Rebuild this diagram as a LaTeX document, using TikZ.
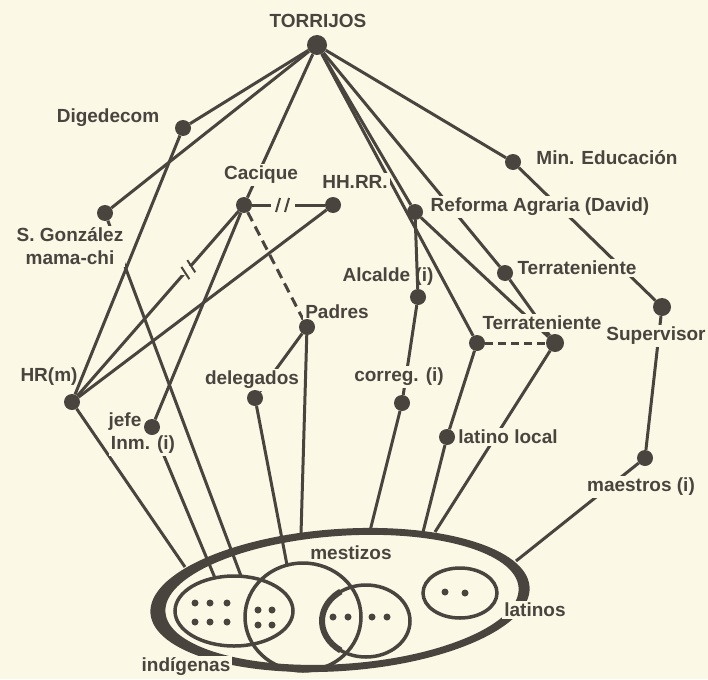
\documentclass[tikz,border=0pt]{standalone}
\usepackage{fontspec}
\setmainfont{Liberation Sans}
\definecolor{ink}{RGB}{74,68,62}
\definecolor{paper}{RGB}{251,248,230}
\pgfdeclarelayer{paperlayer}
\pgfdeclarelayer{edgelayer}
\pgfsetlayers{paperlayer,edgelayer,main}
\newcommand\lblfont{\fontsize{19}{23}\selectfont\bfseries}
\begin{document}
\begin{tikzpicture}[x=1pt,y=-1pt,
  vdot/.style={circle,fill=ink,inner sep=0pt,minimum size=16pt},
  bigdot/.style={vdot,minimum size=20pt},
  lbl/.style={font=\lblfont,text=ink,fill=paper,inner sep=2pt},
  lblclear/.style={font=\lblfont,text=ink,inner sep=2pt},
  link/.style={draw=ink,line width=3pt},
  dashlink/.style={link,dash pattern=on 10pt off 6pt},
  pdot/.style={circle,fill=ink,inner sep=0pt,minimum size=7pt},
  ringline/.style={draw=ink,line width=3.5pt},
  cutgap/.style={fill=paper,inner sep=0pt,minimum width=24pt,minimum height=9pt},
  cutstroke/.style={draw=ink,line width=2pt}
]
\begin{pgfonlayer}{paperlayer}
\fill[paper] (0,0) rectangle (708,679);
\end{pgfonlayer}
\useasboundingbox (0,0) rectangle (708,679);

% ---------- labels ----------
\node[lbl] (torrL) at (318,21) {TORRIJOS};
\node[lbl] (digeL) at (108,118) {Digedecom};
\node[lbl] (minedL) at (607,158) {Min. Educación};
\node[lbl] (caciL) at (261,175) {Cacique};
\node[lbl] (hhrrL) at (355,182) {HH.RR.};
\node[lbl] (refoL) at (540,207) {Reforma Agraria (David)};
\node[lbl,align=center] (sgonL) at (70,246.5) {S. González\\mama-chi};
\node[lblclear] (alcaL) at (388,277) {Alcalde (i)};
\node[lbl] (terr1L) at (577,268) {Terrateniente};
\node[lbl] (supvL) at (656,336) {Supervisor};
\node[lbl] (padrL) at (337,312) {Padres};
\node[lbl] (terr2L) at (542,323) {Terrateniente};
\node[lblclear] (hrmL) at (49,377) {HR(m)};
\node[lbl] (deleL) at (252,380) {delegados};
\node[lbl] (corrL) at (399,377) {correg. (i)};
\node[lbl] (latiL) at (508,437) {latino local};
\node[lblclear] (jefeL) at (125,422) {jefe};
\node[lbl] (inmL) at (143,445) {Inm. (i)};
\node[lbl] (maesL) at (641,487) {maestros (i)};
\node[lblclear] (mestL) at (351,553) {mestizos};
\node[lbl] (latsL) at (535,610) {latinos};
\node[lbl] (indiL) at (186,667) {indígenas};

% ---------- dots ----------
\node[bigdot] (torr) at (317,45) {};
\node[vdot] (dige) at (183,128) {};
\node[vdot] (mined) at (513,162) {};
\node[vdot] (caci) at (244,205) {};
\node[vdot] (hhrr) at (333,205) {};
\node[vdot] (refo) at (415,212) {};
\node[vdot] (sgon) at (105,213) {};
\node[vdot] (alca) at (418,297) {};
\node[vdot] (terr1) at (505,273) {};
\node[vdot,minimum size=18pt] (supv) at (662,307) {};
\node[vdot] (padr) at (307,327) {};
\node[vdot] (lterr) at (477,343) {};
\node[vdot,minimum size=18pt] (rterr) at (555,343) {};
\node[vdot] (hrm) at (72,402) {};
\node[vdot] (dele) at (255,398) {};
\node[vdot] (corr) at (402,403) {};
\node[vdot] (lati) at (447,437) {};
\node[vdot] (jefe) at (152,427) {};
\node[vdot] (maes) at (645,458) {};

% cut marks on two links
\node[cutgap] (gap1) at (283,205) {};
\draw[cutstroke] (276,212) -- (280,198) (285,212) -- (289,198);
\begin{scope}[shift={(188,270)},rotate=49]
\node[cutgap] (gap2) at (0,0) {};
\draw[cutstroke] (-6,7) -- (-2,-7) (3,7) -- (7,-7);
\end{scope}

% dots inside the groups
\node[pdot] (p1) at (195,603) {};
\node[pdot] (p2) at (210,603) {};
\node[pdot] (p3) at (227,603) {};
\node[pdot] (p4) at (195,622) {};
\node[pdot] (p5) at (210,622) {};
\node[pdot] (p6) at (227,622) {};
\node[pdot] (p7) at (258,610) {};
\node[pdot] (p8) at (272,610) {};
\node[pdot] (p9) at (258,625) {};
\node[pdot] (p10) at (272,625) {};
\node[pdot] (p11) at (333,617) {};
\node[pdot] (p12) at (348,617) {};
\node[pdot] (p13) at (372,617) {};
\node[pdot] (p14) at (387,617) {};
\node[pdot] (p15) at (445,592) {};
\node[pdot] (p16) at (465,593) {};

% free ends on the groups
\coordinate (ehr) at (185,567);
\coordinate (ejefe) at (215,578);
\coordinate (esg) at (241,576);
\coordinate (edel) at (287,565);
\coordinate (epad) at (301,534);
\coordinate (ecor) at (370,531);
\coordinate (elat) at (423,532);
\coordinate (eterr) at (435,532);
\coordinate (emae) at (516,561);

\begin{pgfonlayer}{edgelayer}
% population groups
\fill[ink,even odd rule,rotate around={4:(340,600)}]
  (340,600) ellipse [x radius=190, y radius=71]
  (342,600) ellipse [x radius=177, y radius=64];
\draw[ringline] (234,611) ellipse [x radius=59, y radius=35];
\draw[ringline] (303,617) ellipse [x radius=58, y radius=54];
\draw[ringline] (366,621) ellipse [x radius=44, y radius=36];
\draw[ink,line width=6pt] (366,621) ++(125:44 and 36) arc [start angle=125, end angle=235, x radius=44, y radius=36];
\draw[ringline] (460,593) ellipse [x radius=37, y radius=25];

% links
\draw[link] (torr) -- (dige);
\draw[link] (torr) -- (sgon);
\draw[link] (torr) -- (caci);
\draw[link] (torr) -- (refo);
\draw[link] (torr) -- (lterr);
\draw[link] (torr) -- (terr1);
\draw[link] (torr) -- (mined);
\draw[link] (mined) -- (supv);
\draw[link] (terr1) -- (rterr);
\draw[link] (refo) -- (alca);
\draw[link] (refo) -- (rterr);
\draw[link] (alca) -- (corr);
\draw[link] (lterr) -- (lati);
\draw[link] (lati) -- (elat);
\draw[link] (rterr) -- (eterr);
\draw[link] (supv) -- (maes);
\draw[link] (maes) -- (emae);
\draw[link] (caci) -- (hhrr);
\draw[link] (caci) -- (jefe);
\draw[dashlink] (caci) -- (padr);
\draw[link] (padr) -- (dele);
\draw[link] (padr) -- (epad);
\draw[link] (dele) -- (edel);
\draw[link] (corr) -- (ecor);
\draw[link] (jefe) -- (ejefe);
\draw[link] (sgon) -- (esg);
\draw[link] (hrm) -- (dige);
\draw[link] (hrm) -- (caci);
\draw[link] (hrm) -- (hhrr);
\draw[link] (hrm) -- (ehr);
\draw[link,dash pattern=on 8pt off 5pt] (lterr) -- (rterr);
\end{pgfonlayer}
\end{tikzpicture}
\end{document}
